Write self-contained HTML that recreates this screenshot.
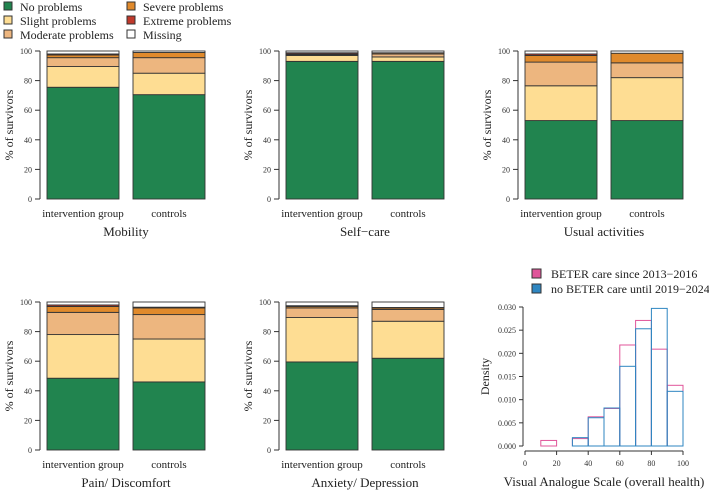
<!DOCTYPE html>
<html><head><meta charset="utf-8">
<style>
html,body{margin:0;padding:0;background:#fff;}
svg{display:block;font-family:"Liberation Serif",serif;}
</style></head>
<body>
<svg id="c" width="709" height="491" xmlns="http://www.w3.org/2000/svg"></svg>
<script>
// categories
const levels = ["No problems","Slight problems","Moderate problems","Severe problems","Extreme problems","Missing"];
const levelColors = ["#21844F","#FEDD93","#EDB67F","#E08A2C","#C0392B","#FFFFFF"];
const groups = ["intervention group","controls"];
const dimensions = ["Mobility","Self\u2212care","Usual activities","Pain/ Discomfort","Anxiety/ Depression"];
// percentages per level: [intervention, controls] for each dimension
const mobility = [[75.5,14,6,1.8,0.7,2],[70.5,14.5,10.5,3.5,0,1]];
const selfcare = [[93,4,0.5,0.5,0.8,1.2],[93,3,2,0.8,0,1.2]];
const usual = [[53,23.5,16,4.5,1,2],[53,29,10,6.5,0,1.5]];
const pain = [[48.5,29.5,15,4,1,2],[46,29,16.5,4.5,0.5,3.5]];
const anxiety = [[59.5,30,6.5,1,0.5,2.5],[62,25,8,1,0.3,3.7]];
const stackData = [mobility,selfcare,usual,pain,anxiety];
const yTicks = [0,20,40,60,80,100];
// histogram
const binEdges = [10,20,30,40,50,60,70,80,90,100];
const beterDensity = [0.0012,0,0.0016,0.0063,0.0081,0.0218,0.0271,0.0209,0.0131];
const noBeterDensity = [0,0,0.0018,0.0061,0.0082,0.0172,0.0253,0.0297,0.0118];
const histYTicks = [0,0.005,0.010,0.015,0.020,0.025,0.030];
const histXTicks = [0,20,40,60,80,100];

const svg = document.getElementById('c');
const NS = "http://www.w3.org/2000/svg";
function mk(tag, attrs, parent){const e=document.createElementNS(NS,tag);for(const k in attrs)e.setAttribute(k,attrs[k]);(parent||svg).appendChild(e);return e;}
function txt(s, attrs, parent){const e=mk('text',attrs,parent);e.textContent=s;return e;}

// legend
const legPos = [[4,10],[4,24],[4,38],[127,10],[127,24],[127,38]];
levels.forEach((l,i)=>{
  const g=mk('g',{});
  
  
  mk('rect',{x:legPos[i][0],y:legPos[i][1]-8,width:8,height:8,fill:levelColors[i],stroke:'#333','stroke-width':1},g);
  txt(l,{x:legPos[i][0]+16,y:legPos[i][1]+1,'font-size':12,fill:'#222'},g);
});

// panels
const panelX=[0,239,478,0,239];
const panelTop=[51,51,51,302,302];
const plotH=148;
stackData.forEach((data,p)=>{
  const ox=panelX[p], y100=panelTop[p], y0=y100+plotH;
  const ys=v=>y0-v/100*plotH;
  const g=mk('g',{});
  
  
  const ax=ox+40;
  mk('line',{x1:ax,y1:y0,x2:ax,y2:y100,stroke:'#333','stroke-width':1},g);
  yTicks.forEach(t=>{
    mk('line',{x1:ax-5,y1:ys(t),x2:ax,y2:ys(t),stroke:'#333'},g);
    txt(String(t),{x:ax-8,y:ys(t)+3,'font-size':8,'text-anchor':'end',fill:'#333'},g);
  });
  const yl=txt('% of survivors',{x:0,y:0,'font-size':12,'text-anchor':'middle',fill:'#222',transform:`translate(${ox+13},${(y0+y100)/2}) rotate(-90)`},g);
  
  
  const barX=[ox+47,ox+133];
  data.forEach((vals,gi)=>{
    let cum=0;
    vals.forEach((v,li)=>{
      if(v<=0) return;
      const r=mk('rect',{x:barX[gi],y:ys(cum+v),width:72,height:ys(cum)-ys(cum+v),fill:levelColors[li],stroke:'#333','stroke-width':0.9},g);
      
      
      cum+=v;
    });
    txt(groups[gi],{x:barX[gi]+36,y:y0+18,'font-size':11,'text-anchor':'middle',fill:'#222'},g);
  });
  const t=txt(dimensions[p],{x:ox+126,y:y0+37,'font-size':13,'text-anchor':'middle',fill:'#222'},g);
  
  
});

// histogram
(function(){
  const g=mk('g',{});
  
  
  const x0=525,x1=683,yb=446,yt=307;
  const xs=v=>x0+(v/100)*(x1-x0);
  const ys=v=>yb-(v/0.030)*(yb-yt);
  const yax=x0-2;
  mk('line',{x1:yax,y1:yb,x2:yax,y2:yt,stroke:'#333'},g);
  histYTicks.forEach(t=>{
    mk('line',{x1:yax-4,y1:ys(t),x2:yax,y2:ys(t),stroke:'#333'},g);
    txt(t.toFixed(3),{x:yax-7,y:ys(t)+3,'font-size':8,'text-anchor':'end',fill:'#333'},g);
  });
  const xay=451;
  mk('line',{x1:xs(0),y1:xay,x2:xs(100),y2:xay,stroke:'#333'},g);
  histXTicks.forEach(t=>{
    mk('line',{x1:xs(t),y1:xay,x2:xs(t),y2:xay+4,stroke:'#333'},g);
    txt(String(t),{x:xs(t),y:xay+15,'font-size':8,'text-anchor':'middle',fill:'#333'},g);
  });
  const yl=txt('Density',{x:0,y:0,'font-size':12,'text-anchor':'middle',fill:'#222',transform:`translate(489,${(yb+yt)/2}) rotate(-90)`},g);
  
  
  const xl=txt('Visual Analogue Scale (overall health)',{x:xs(50),y:486,'font-size':13,'text-anchor':'middle',fill:'#222'},g);
  
  
  const series=[[beterDensity,'#E0559A'],[noBeterDensity,'#2E86C1']];
  series.forEach(([d,col])=>{
    d.forEach((v,i)=>{
      const r=mk('rect',{x:xs(binEdges[i]),y:ys(v),width:xs(binEdges[i+1])-xs(binEdges[i]),height:yb-ys(v),fill:'none',stroke:col,'stroke-width':1},g);
      
      
    });
  });
  const legs=[['BETER care since 2013\u22122016','#E0559A',278],['no BETER care until 2019\u22122024','#2E86C1',293]];
  legs.forEach(([l,c,y])=>{
    const lg=mk('g',{},g);
    
    
    mk('rect',{x:532,y:y-9,width:9,height:9,fill:c,stroke:'#333'},lg);
    txt(l,{x:551,y:y,'font-size':12,fill:'#222'},lg);
  });
})();
</script>
</body></html>
